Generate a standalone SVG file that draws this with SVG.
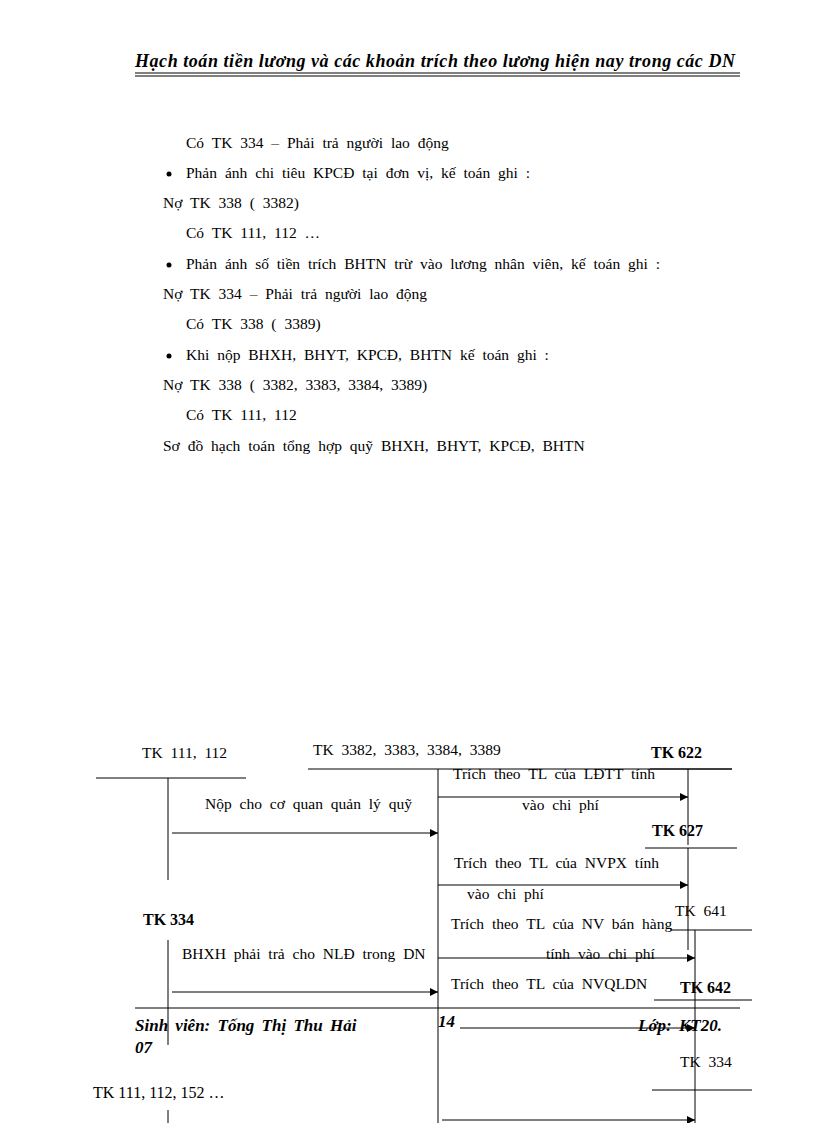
<svg xmlns="http://www.w3.org/2000/svg" width="816" height="1123" viewBox="0 0 816 1123">
<style>
text{font-family:"Liberation Serif",serif;font-size:15.5px;fill:#000;word-spacing:4px}
.h{font-weight:bold;font-style:italic;font-size:18px;word-spacing:0}
.f{font-weight:bold;font-style:italic;font-size:17px;word-spacing:3px}
.b{font-size:16px;word-spacing:0}
line{stroke:#000;stroke-width:1}
</style>
<defs><marker id="a" markerWidth="8" markerHeight="8" refX="8" refY="4" orient="auto" markerUnits="userSpaceOnUse"><path d="M0,0 L8,4 L0,8z"/></marker></defs>
<rect width="816" height="1123" fill="#fff"/>
<text class="h" x="135" y="67" textLength="600" lengthAdjust="spacing">Hạch toán tiền lương và các khoản trích theo lương hiện nay trong các DN</text>
<line x1="135" y1="73" x2="740" y2="73" stroke-width="1.5"/>
<line x1="135" y1="76" x2="740" y2="76"/>
<text x="186" y="148">Có TK 334 – Phải trả người lao động</text>
<circle cx="169" cy="174" r="2.5"/><text x="186" y="178">Phản ánh chi tiêu KPCĐ tại đơn vị, kế toán ghi :</text>
<text x="163" y="208">Nợ TK 338 ( 3382)</text>
<text x="186" y="238">Có TK 111, 112 …</text>
<circle cx="169" cy="265" r="2.5"/><text x="186" y="269">Phản ánh số tiền trích BHTN trừ vào lương nhân viên, kế toán ghi :</text>
<text x="163" y="299">Nợ TK 334 – Phải trả người lao động</text>
<text x="186" y="329">Có TK 338 ( 3389)</text>
<circle cx="169" cy="356" r="2.5"/><text x="186" y="360">Khi nộp BHXH, BHYT, KPCĐ, BHTN kế toán ghi :</text>
<text x="163" y="390">Nợ TK 338 ( 3382, 3383, 3384, 3389)</text>
<text x="186" y="420">Có TK 111, 112</text>
<text x="163" y="451">Sơ đồ hạch toán tổng hợp quỹ BHXH, BHYT, KPCĐ, BHTN</text>
<g id="tk111"><text x="142" y="758">TK 111, 112</text><line x1="96" y1="778" x2="246" y2="778"/><line x1="168" y1="778" x2="168" y2="880"/></g>
<g id="tk338"><text x="313" y="755">TK 3382, 3383, 3384, 3389</text><line x1="308" y1="769" x2="732" y2="769"/><line x1="438" y1="769" x2="438" y2="1123"/></g>
<g id="tk622"><text class="b" x="651" y="758" font-weight="bold">TK 622</text><line x1="650" y1="769" x2="732" y2="769"/><line x1="688" y1="769" x2="688" y2="845"/></g>
<g id="tk627"><text class="b" x="652" y="836" font-weight="bold">TK 627</text><line x1="645" y1="848" x2="737" y2="848"/><line x1="688" y1="848" x2="688" y2="950"/></g>
<g id="tk641"><text x="675" y="916">TK 641</text><line x1="670" y1="930" x2="752" y2="930"/><line x1="695" y1="930" x2="695" y2="1123"/></g>
<g id="tk334a"><text class="b" x="143" y="925" font-weight="bold">TK 334</text><line x1="168" y1="940" x2="168" y2="1045"/></g>
<g id="tk642"><text class="b" x="680" y="993" font-weight="bold">TK 642</text><line x1="654" y1="1000" x2="752" y2="1000"/></g>
<g id="tk334b"><text x="680" y="1067">TK 334</text><line x1="652" y1="1090" x2="752" y2="1090"/></g>
<g id="tk111b"><text class="b" x="93" y="1098">TK 111, 112, 152 …</text><line x1="168" y1="1110" x2="168" y2="1123"/></g>
<g id="connectors">
<line x1="172" y1="833" x2="438" y2="833" marker-end="url(#a)"/>
<line x1="438" y1="797" x2="688" y2="797" marker-end="url(#a)"/>
<line x1="438" y1="885" x2="688" y2="885" marker-end="url(#a)"/>
<line x1="438" y1="958" x2="695" y2="958" marker-end="url(#a)"/>
<line x1="172" y1="992" x2="438" y2="992" marker-end="url(#a)"/>
<line x1="460" y1="1028" x2="695" y2="1028" marker-end="url(#a)"/>
<line x1="442" y1="1120" x2="695" y2="1120" marker-end="url(#a)"/>
</g>
<text x="453" y="779">Trích theo TL của LĐTT tính</text>
<text x="522" y="810">vào chi phí</text>
<text x="205" y="809">Nộp cho cơ quan quản lý quỹ</text>
<text x="454" y="868">Trích theo TL của NVPX tính</text>
<text x="467" y="899">vào chi phí</text>
<text x="451" y="929">Trích theo TL của NV bán hàng</text>
<text x="546" y="959">tính vào chi phí</text>
<text x="182" y="959">BHXH phải trả cho NLĐ trong DN</text>
<text x="451" y="989">Trích theo TL của NVQLDN</text>
<line x1="135" y1="1008" x2="740" y2="1008" stroke-width="2.5"/>
<text class="f" x="135" y="1031">Sinh viên: Tống Thị Thu Hải</text>
<text class="f" x="135" y="1053">07</text>
<text class="f" x="438" y="1027">14</text>
<text class="f" x="638" y="1031">Lớp: KT20.</text>
</svg>
